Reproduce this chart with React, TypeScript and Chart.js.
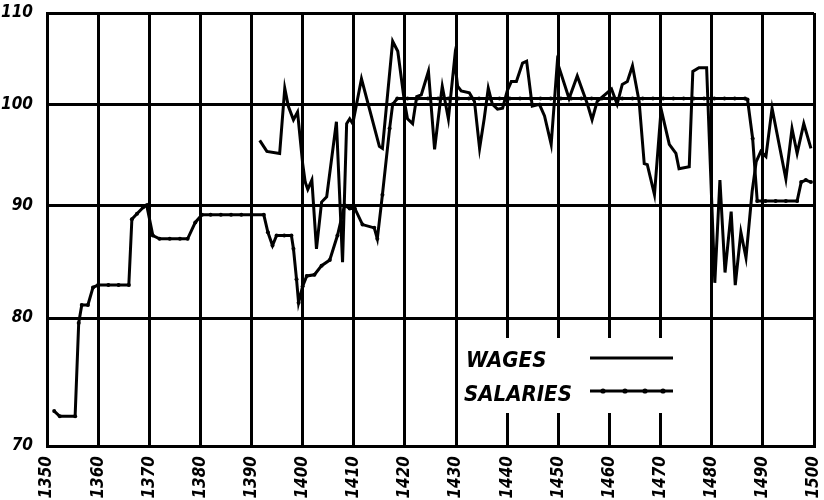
import React, { useEffect, useRef } from "react";
import { Chart, registerables } from "chart.js";

Chart.register(...registerables);

// ---- data (index, log scale) ----
const wageYears = [
  1391.6, 1393.0, 1395.5, 1396.5, 1397.2, 1398.2, 1399.0, 1400.0, 1400.5, 1401.0,
  1401.8, 1402.7, 1403.7, 1404.7, 1406.6, 1407.8, 1408.6, 1409.2, 1409.8, 1411.5,
  1415.0, 1415.6, 1417.6, 1418.6, 1419.9, 1420.5, 1421.5, 1422.3, 1423.2, 1424.6,
  1425.8, 1426.8, 1427.3, 1428.5, 1429.7, 1430.3, 1431.0, 1432.6, 1433.6, 1434.6,
  1435.5, 1436.3, 1437.1, 1438.1, 1439.1, 1440.0, 1440.8, 1441.8, 1443.0, 1443.8,
  1444.9, 1446.3, 1447.3, 1448.6, 1449.8, 1452.1, 1453.7, 1455.7, 1456.6, 1457.6,
  1460.4, 1461.5, 1462.5, 1463.5, 1464.5, 1465.8, 1466.8, 1467.4, 1468.8, 1470.1,
  1471.7, 1473.0, 1473.6, 1475.6, 1476.3, 1477.5, 1479.0, 1480.6, 1481.6, 1482.6,
  1483.8, 1484.6, 1485.7, 1486.7, 1487.9, 1488.7, 1489.6, 1490.6, 1491.8, 1494.5,
  1495.7, 1496.7, 1498.0, 1499.4,
];
const wageValues = [
  96.3, 95.2, 95.0, 101.7, 99.8, 98.4, 99.2, 94.0, 92.2, 91.5,
  92.4, 86.0, 90.3, 90.8, 98.2, 84.8, 98.0, 98.5, 98.0, 102.7,
  95.7, 95.5, 106.8, 105.7, 100.3, 98.5, 98.0, 100.8, 101.0, 103.5,
  95.4, 99.8, 101.9, 98.5, 104.8, 101.9, 101.4, 101.2, 100.3, 95.5,
  98.5, 101.7, 100.0, 99.5, 99.6, 101.4, 102.4, 102.4, 104.4, 104.6,
  99.8, 100.0, 98.8, 95.9, 104.5, 100.6, 103.0, 100.0, 98.4, 100.3,
  101.6, 100.0, 102.1, 102.4, 104.1, 100.3, 94.0, 93.9, 91.0, 99.5,
  95.9, 95.0, 93.5, 93.7, 103.5, 103.9, 103.9, 83.0, 92.4, 83.9,
  89.4, 82.8, 87.5, 85.2, 91.3, 94.2, 95.2, 94.7, 99.6, 92.5,
  97.5, 95.0, 98.0, 95.5,
];

const salaryYears = [
  1351.4, 1352.5, 1355.5, 1356.2, 1356.8, 1358.0, 1359.0, 1360.0, 1362.0, 1364.0,
  1366.0, 1366.6, 1367.6, 1368.8, 1369.5, 1370.7, 1372.0, 1374.0, 1376.0, 1377.5,
  1379.0, 1380.3, 1382.0, 1384.0, 1386.0, 1388.0, 1390.0, 1392.4, 1393.2, 1394.1,
  1394.9, 1396.4, 1397.8, 1398.2, 1398.8, 1399.2, 1400.0, 1400.8, 1402.3, 1403.7,
  1405.3, 1406.8, 1408.2, 1409.2, 1410.2, 1411.7, 1414.0, 1414.6, 1415.6, 1417.0,
  1417.6, 1418.5, 1420.5, 1422.5, 1424.5, 1426.5, 1428.5, 1430.5, 1432.5, 1434.5,
  1436.5, 1438.5, 1440.5, 1442.5, 1444.5, 1446.5, 1448.5, 1450.5, 1452.5, 1454.5,
  1456.5, 1458.5, 1460.5, 1462.5, 1464.5, 1466.5, 1468.5, 1470.5, 1472.5, 1474.5,
  1476.5, 1478.5, 1480.5, 1482.5, 1484.5, 1486.5, 1487.0, 1488.0, 1488.9, 1490.5,
  1492.5, 1494.5, 1496.7, 1497.5, 1498.4, 1499.4,
];
const salaryValues = [
  72.6, 72.2, 72.2, 79.6, 81.1, 81.1, 82.6, 82.8, 82.8, 82.8,
  82.8, 88.7, 89.2, 89.8, 90.0, 87.2, 86.9, 86.9, 86.9, 86.9,
  88.4, 89.1, 89.1, 89.1, 89.1, 89.1, 89.1, 89.1, 87.5, 86.3,
  87.2, 87.2, 87.2, 86.0, 83.3, 81.3, 82.7, 83.6, 83.7, 84.5,
  85.0, 87.2, 90.0, 89.7, 89.7, 88.2, 87.9, 86.9, 91.0, 97.5,
  100.0, 100.6, 100.6, 100.6, 100.6, 100.6, 100.6, 100.6, 100.6, 100.6,
  100.6, 100.6, 100.6, 100.6, 100.6, 100.6, 100.6, 100.6, 100.6, 100.6,
  100.6, 100.6, 100.6, 100.6, 100.6, 100.6, 100.6, 100.6, 100.6, 100.6,
  100.6, 100.6, 100.6, 100.6, 100.6, 100.6, 100.5, 96.5, 90.4, 90.4,
  90.4, 90.4, 90.4, 92.2, 92.4, 92.2,
];

const yTickValues = [70, 80, 90, 100, 110];
const xMin = 1350;
const xMax = 1500;
const xStep = 10;
const legendLabels = ["WAGES", "SALARIES"];

const FONT = "'Liberation Sans Narrow','DejaVu Sans Condensed','DejaVu Sans',sans-serif";

export default function App() {
  const ref = useRef<HTMLCanvasElement>(null);

  useEffect(() => {
    const canvas = ref.current;
    if (!canvas) return;

    const handLegend = {
      id: "handLegend",
      afterDatasetsDraw(chart: any) {
        const { ctx, chartArea: ca } = chart;
        ctx.save();
        ctx.fillStyle = "#ffffff";
        ctx.fillRect(ca.left + 413, ca.top + 325, 245, 75);
        ctx.fillStyle = "#000";
        ctx.font = `italic bold 22px ${FONT}`;
        ctx.textBaseline = "alphabetic";
        ctx.textAlign = "left";
        ctx.fillText(legendLabels[0], ca.left + 419, ca.top + 354);
        ctx.fillText(legendLabels[1], ca.left + 417, ca.top + 388);
        ctx.strokeStyle = "#000";
        ctx.lineWidth = 3;
        ctx.beginPath();
        ctx.moveTo(ca.left + 543, ca.top + 345);
        ctx.lineTo(ca.left + 626, ca.top + 345);
        ctx.stroke();
        ctx.beginPath();
        ctx.moveTo(ca.left + 543, ca.top + 378);
        ctx.lineTo(ca.left + 626, ca.top + 378);
        ctx.stroke();
        for (const dx of [556, 578, 598, 616]) {
          ctx.beginPath();
          ctx.arc(ca.left + dx, ca.top + 378, 2.6, 0, Math.PI * 2);
          ctx.fill();
        }
        ctx.restore();
      },
    };

    const tickFont = { family: FONT, size: 17, weight: "bold" as const, style: "italic" as const };

    const chart = new Chart(canvas, {
      type: "line",
      data: {
        datasets: [
          {
            label: legendLabels[0],
            data: wageYears.map((x, i) => ({ x, y: wageValues[i] })),
            borderColor: "#000",
            borderWidth: 3,
            pointRadius: 0,
            tension: 0,
            fill: false,
          },
          {
            label: legendLabels[1],
            data: salaryYears.map((x, i) => ({ x, y: salaryValues[i] })),
            borderColor: "#000",
            backgroundColor: "#000",
            borderWidth: 3,
            pointRadius: 2,
            pointBorderWidth: 0,
            tension: 0,
            fill: false,
          },
        ],
      },
      options: {
        responsive: false,
        animation: false,
        layout: { padding: { top: 13, right: 10, left: 0, bottom: 0 } },
        plugins: { legend: { display: false }, tooltip: { enabled: false } },
        scales: {
          x: {
            type: "linear",
            min: xMin,
            max: xMax,
            ticks: {
              stepSize: xStep,
              minRotation: 90,
              maxRotation: 90,
              padding: 10,
              color: "#000",
              font: tickFont,
              callback: (v: any) => String(v),
            },
            grid: { color: "#000", lineWidth: 3, drawTicks: false },
            border: { display: true, color: "#000", width: 3 },
            afterFit: (s: any) => {
              s.height = 54;
              s.paddingLeft = 0;
              s.paddingRight = 0;
              s.paddingTop = 0;
              s.paddingBottom = 0;
            },
          },
          y: {
            type: "logarithmic",
            min: 70,
            max: 110,
            afterBuildTicks: (s: any) => {
              s.ticks = yTickValues.map((v) => ({ value: v }));
            },
            ticks: {
              padding: 14,
              color: "#000",
              font: tickFont,
              callback: (v: any) => String(v),
            },
            grid: { color: "#000", lineWidth: 3, drawTicks: false },
            border: { display: true, color: "#000", width: 3 },
            afterFit: (s: any) => {
              s.width = 47;
              s.paddingLeft = 0;
              s.paddingRight = 0;
              s.paddingTop = 0;
              s.paddingBottom = 0;
            },
          },
        },
      },
      plugins: [handLegend],
    });

    return () => chart.destroy();
  }, []);

  return (
    <div style={{ position: "fixed", left: 0, top: 0, width: 824, height: 500, background: "#fff" }}>
      <canvas ref={ref} width={824} height={500} />
    </div>
  );
}
